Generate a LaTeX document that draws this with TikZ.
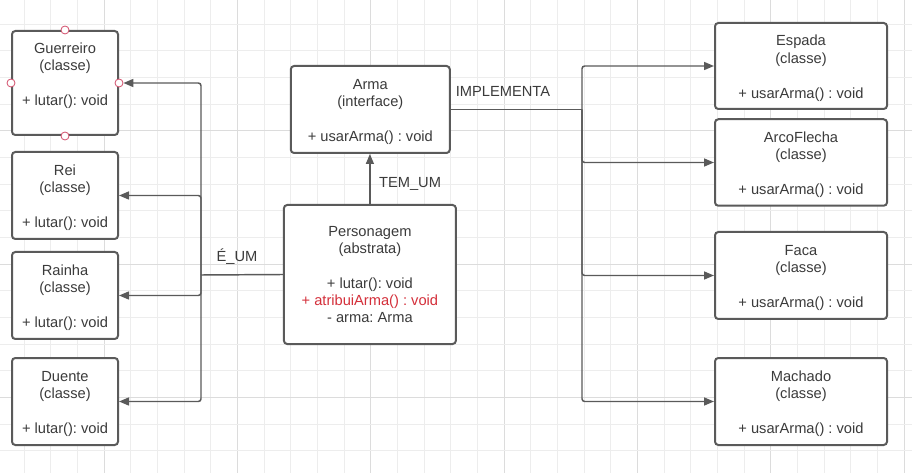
\documentclass[tikz,border=0pt]{standalone}
\usepackage{fontspec}
\setmainfont{Liberation Sans}
\frenchspacing
\usetikzlibrary{arrows.meta}
\definecolor{txt}{HTML}{3B3B3B}
\definecolor{edge}{HTML}{5A5A5A}
\definecolor{redtxt}{HTML}{D42F3A}
\definecolor{gridminor}{HTML}{EDEDED}
\definecolor{gridmajor}{HTML}{DCDCDC}
\definecolor{handlecol}{HTML}{D24D6A}
\newcommand{\topstrut}{\rule{0pt}{11pt}}
\begin{document}
\begin{tikzpicture}[x=0.75pt,y=-0.75pt,
  umlbox/.style 2 args={draw=edge, line width=1.5pt, rounded corners=2.5pt, fill=white,
    minimum width=#1*0.75pt, minimum height=#2*0.75pt, inner sep=0pt,
    align=center, text=txt, font=\fontsize{11pt}{13.1pt}\selectfont},
  conn/.style={draw=edge, line width=1.1pt, rounded corners=2pt},
  arr/.style={conn, -{Triangle[length=7.5pt,width=6pt]}},
  lbl/.style={text=txt, font=\fontsize{11pt}{13.1pt}\selectfont, inner sep=0pt},
  handlept/.style={circle, draw=handlecol, fill=white, line width=0.6pt, minimum size=6pt, inner sep=0pt}
]
\useasboundingbox (0,0) rectangle (912,473);
\fill[white] (0,0) rectangle (912,473);
% grid
\foreach \i in {0,...,33} {
  \pgfmathsetmacro{\gx}{24+26.6667*\i}
  \pgfmathtruncatemacro{\gm}{mod(\i,5)}
  \ifnum\gm=3
    \draw[gridmajor, line width=0.75pt] (\gx,0) -- (\gx,473);
  \else
    \draw[gridminor, line width=0.75pt] (\gx,0) -- (\gx,473);
  \fi
}
\foreach \j in {0,...,17} {
  \pgfmathsetmacro{\gy}{24.3+26.6667*\j}
  \pgfmathtruncatemacro{\gm}{mod(\j,5)}
  \ifnum\gm=4
    \draw[gridmajor, line width=0.75pt] (0,\gy) -- (912,\gy);
  \else
    \draw[gridminor, line width=0.75pt] (0,\gy) -- (912,\gy);
  \fi
}

% left column
\node[umlbox={106}{104}] (guerreiro) at (65,83) {\rule{0pt}{12pt}Guerreiro\\(classe)\\[13.1pt]+ lutar(): void\\\strut};
\node[umlbox={106}{87}] (rei) at (65,195.5) {\topstrut Rei\\(classe)\\[13.1pt]+ lutar(): void};
\node[umlbox={106}{87}] (rainha) at (65,295.5) {\topstrut Rainha\\(classe)\\[13.1pt]+ lutar(): void};
\node[umlbox={106}{87}] (duente) at (65,401.5) {\topstrut Duente\\(classe)\\[13.1pt]+ lutar(): void};

% middle
\node[umlbox={159}{87}] (arma) at (370.3,109.5) {\topstrut Arma\\(interface)\\[13.1pt]+ usarArma() : void};
\node[umlbox={172}{139}] (personagem) at (369.9,274.5) {Personagem\\(abstrata)\\[12.8pt]+ lutar(): void\\\textcolor{redtxt}{+ atribuiArma() : void}\\- arma: Arma};

% right column
\node[umlbox={172}{86}] (espada) at (801,66) {\topstrut Espada\\(classe)\\[13.1pt]+ usarArma() : void};
\node[umlbox={172}{86.5}] (arco) at (801,162.5) {\topstrut ArcoFlecha\\(classe)\\[13.1pt]+ usarArma() : void};
\node[umlbox={172}{87}] (faca) at (801,275.5) {\topstrut Faca\\(classe)\\[13.1pt]+ usarArma() : void};
\node[umlbox={172}{87}] (machado) at (801,401.5) {\topstrut Machado\\(classe)\\[13.1pt]+ usarArma() : void};

% selection handles on Guerreiro
\node[handlept] (hn) at (guerreiro.north) {};
\node[handlept] (hs) at (guerreiro.south) {};
\node[handlept] (hw) at (guerreiro.west) {};
\node[handlept] (he) at (guerreiro.east) {};

% E_UM tree
\coordinate (ls) at (201,275);
\draw[conn] (personagem.west) -- (ls);
\draw[arr] (ls) |- (he.east);
\draw[arr] (ls) |- (rei.east);
\draw[arr] (ls) |- (rainha.east);
\draw[arr] (ls) |- (duente.east);
\node[lbl] (eum) at (237,257) {É\_UM};

% TEM_UM
\draw[arr] (personagem.north) -- (personagem.north |- arma.south);
\node[lbl] (temum) at (410,184) {TEM\_UM};

% IMPLEMENTA tree
\coordinate (rs) at (582,109.5);
\draw[conn] (arma.east) -- (rs);
\draw[arr] (rs) |- (espada.west);
\draw[arr] (rs) |- (arco.west);
\draw[arr] (rs) |- (faca.west);
\draw[arr] (rs) |- (machado.west);
\node[lbl] (impl) at (503,91) {IMPLEMENTA};
\end{tikzpicture}
\end{document}
